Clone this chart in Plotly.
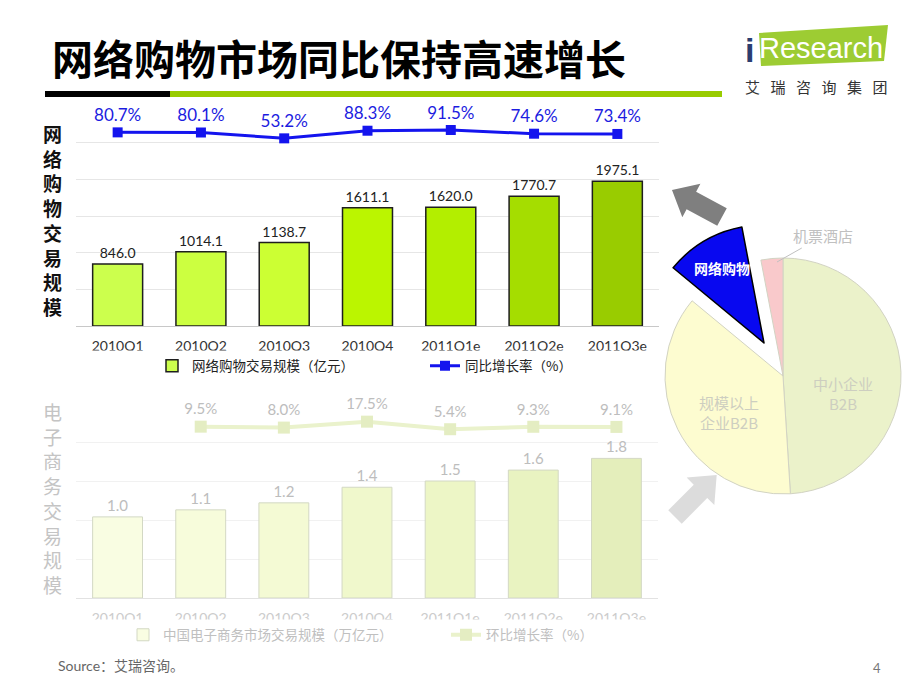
import numpy as np
import plotly.graph_objects as go

W, H = 920, 690


def fx(px):
    return px / W


def fy(py):
    return 1 - py / H


# ---------------- data ----------------
quarters = ["2010Q1", "2010Q2", "2010Q3", "2010Q4", "2011Q1e", "2011Q2e", "2011Q3e"]
online_sales = [846.0, 1014.1, 1138.7, 1611.1, 1620.0, 1770.7, 1975.1]      # 亿元
online_yoy = [80.7, 80.1, 53.2, 88.3, 91.5, 74.6, 73.4]                      # %
ec_sales = [1.04, 1.13, 1.22, 1.42, 1.50, 1.64, 1.79]                        # 万亿元
ec_qoq_quarters = quarters[1:]
ec_qoq = [9.5, 8.0, 17.5, 5.4, 9.3, 9.1]                                     # %
pie_labels = ["中小企业B2B", "规模以上企业B2B", "网络购物", "机票酒店"]
pie_shares = [49, 37, 11, 3]

# ---------------- styles ----------------
NUM_FONT = "Lato, 'Noto Sans CJK SC', sans-serif"
CJK_FONT = "'Noto Sans CJK SC', sans-serif"
top_bar_colors = ["#ccff4d", "#ccff40", "#ccff33", "#bbf500", "#b3ee00", "#a5dd00", "#99cc00"]
bot_bar_colors = ["#f9fde2", "#f7fcdb", "#f4fad4", "#f0f8cc", "#edf6c6", "#e9f3c1", "#e4eebb"]

fig = go.Figure()

fig.add_trace(go.Bar(
    x=quarters, y=online_sales, xaxis="x", yaxis="y",
    name="网络购物交易规模（亿元）", legend="legend",
    marker=dict(color=top_bar_colors, line=dict(color="#1e1e1e", width=1.5)),
    width=0.6, texttemplate="%{y:.1f}", textposition="outside", cliponaxis=False,
    textfont=dict(family=NUM_FONT, size=14, color="#222222"), hoverinfo="skip",
))
fig.add_trace(go.Scatter(
    x=quarters, y=online_yoy, xaxis="x", yaxis="y2",
    name="同比增长率（%）", legend="legend",
    mode="lines+markers+text", line=dict(color="#1414ee", width=3),
    marker=dict(symbol="square", size=10, color="#1414ee"),
    texttemplate="%{y:.1f}%", textposition="top center", cliponaxis=False,
    textfont=dict(family=NUM_FONT, size=17, color="#1c1ce0"), hoverinfo="skip",
))
fig.add_trace(go.Bar(
    x=quarters, y=ec_sales, xaxis="x2", yaxis="y3",
    name="中国电子商务市场交易规模（万亿元）", legend="legend2",
    marker=dict(color=bot_bar_colors, line=dict(color="#d3d8c4", width=1)),
    width=0.6, texttemplate="%{y:.1f}", textposition="outside", cliponaxis=False,
    textfont=dict(family=NUM_FONT, size=15, color="#bdbdbd"), hoverinfo="skip",
))
fig.add_trace(go.Scatter(
    x=ec_qoq_quarters, y=ec_qoq, xaxis="x2", yaxis="y4",
    name="环比增长率（%）", legend="legend2",
    mode="lines+markers+text", line=dict(color="#eaf2cc", width=4),
    marker=dict(symbol="square", size=12, color="#e4edc2"),
    texttemplate="%{y:.1f}%", textposition="top center", cliponaxis=False,
    textfont=dict(family=NUM_FONT, size=15, color="#bdbdbd"), hoverinfo="skip",
))

# pie: main body (网络购物 slot left empty), centre (783,376), r 118
pie_colors = ["#ebf2ca", "#fdfcd0", "rgba(0,0,0,0)", "#f9c9cb"]
fig.add_trace(go.Pie(
    labels=pie_labels, values=pie_shares, sort=False, direction="clockwise", rotation=0,
    domain=dict(x=[fx(665), fx(901)], y=[fy(494), fy(258)]),
    marker=dict(colors=pie_colors, line=dict(color="#d2d3c3", width=[1, 1, 0, 1])),
    textinfo="none", hoverinfo="skip", showlegend=False,
))
# pulled-out 网络购物 slice
fig.add_trace(go.Pie(
    labels=pie_labels, values=pie_shares, sort=False, direction="clockwise", rotation=0,
    domain=dict(x=[fx(646), fx(882)], y=[fy(461), fy(225)]),
    marker=dict(colors=["rgba(0,0,0,0)", "rgba(0,0,0,0)", "#0808f0", "rgba(0,0,0,0)"],
                line=dict(color="#000000", width=[0, 0, 1.5, 0])),
    textinfo="none", hoverinfo="skip", showlegend=False,
))


# ---------------- decorative shapes ----------------
def arrow_path(tail, tip, sw, hw, hl):
    T = np.array(tail, float)
    P = np.array(tip, float)
    u = (P - T) / np.linalg.norm(P - T)
    n = np.array([-u[1], u[0]])
    B = P - u * hl
    pts = [T + n * sw / 2, B + n * sw / 2, B + n * hw / 2, P,
           B - n * hw / 2, B - n * sw / 2, T - n * sw / 2]
    return "M " + " L ".join(f"{fx(p[0]):.5f},{fy(p[1]):.5f}" for p in pts) + " Z"


def poly_path(pts):
    return "M " + " L ".join(f"{fx(x):.5f},{fy(y):.5f}" for x, y in pts) + " Z"


shapes = [
    dict(type="rect", xref="paper", yref="paper", x0=fx(45), x1=fx(170), y0=fy(97), y1=fy(91),
         fillcolor="#000000", line_width=0),
    dict(type="rect", xref="paper", yref="paper", x0=fx(170), x1=fx(722), y0=fy(97), y1=fy(91),
         fillcolor="#99cc00", line_width=0),
    # clip bottoms of category labels (as in the reference)
    dict(type="rect", xref="paper", yref="paper", x0=fx(60), x1=fx(660), y0=fy(357.5), y1=fy(350.5),
         fillcolor="#ffffff", line_width=0),
    dict(type="rect", xref="paper", yref="paper", x0=fx(60), x1=fx(660), y0=fy(627), y1=fy(619.5),
         fillcolor="#ffffff", line_width=0),
    # logo plate
    dict(type="path", xref="paper", yref="paper",
         path=poly_path([(759, 33), (888, 25), (884, 61), (761, 66)]),
         fillcolor="#9dcc33", line_width=0),
    # arrows
    dict(type="path", xref="paper", yref="paper",
         path=arrow_path((722, 217), (672, 190), 20, 38, 22), fillcolor="#7f7f7f", line_width=0),
    dict(type="path", xref="paper", yref="paper",
         path=arrow_path((675, 517), (716.7, 475), 19, 39, 23), fillcolor="#dcdcdc", line_width=0),
]


def ann(text, x, y, size, color, family=CJK_FONT, weight=None, xanchor="center", **kw):
    font = dict(family=family, size=size, color=color)
    if weight:
        font["weight"] = weight
    d = dict(text=text, xref="paper", yref="paper", x=fx(x), y=fy(y), xanchor=xanchor,
             yanchor="middle", showarrow=False, font=font)
    d.update(kw)
    return d


annotations = [
    ann("<b>网络购物市场同比保持高速增长</b>", 50, 57, 41, "#000000", xanchor="left"),
    ann("i", 749, 50, 34, "#2b3d70", family="'Liberation Sans Narrow', sans-serif", weight=700),
    ann("Research", 821, 48, 29, "#ffffff", family="'Liberation Sans Narrow', sans-serif"),
    ann("艾\u2002\u2009瑞\u2002\u2009咨\u2002\u2009询\u2002\u2009集\u2002\u2009团", 816, 86, 15, "#333333"),
    ann("<br>".join("网络购物交易规模"), 52, 220, 19, "#111111", weight=700),
    ann("<br>".join("电子商务交易规模"), 52, 498, 19, "#c4c4c4"),
    ann("<b>网络购物</b>", 722, 268, 14, "#ffffff"),
    ann("中小企业<br>B2B", 843, 393, 15, "#cdcec0", family=CJK_FONT),
    ann("规模以上<br>企业B2B", 729, 413, 15, "#cdcec0", family=CJK_FONT),
    dict(text="机票酒店", xref="paper", yref="paper", x=fx(777), y=fy(262), ax=46, ay=-26,
         showarrow=True, arrowhead=0, arrowwidth=1, arrowcolor="#c0c0c0",
         font=dict(family=CJK_FONT, size=15, color="#c0c0c0")),
    ann("Source：艾瑞咨询。", 56, 665, 14, "#666666", family=NUM_FONT, xanchor="left"),
    ann("4", 877, 668, 13, "#777777", family=NUM_FONT),
]

xcommon = dict(type="category", range=[-0.5, 6.5], showgrid=False, ticks="", zeroline=False,
               showline=True, fixedrange=True)

fig.update_layout(
    width=W, height=H, margin=dict(l=0, r=0, t=0, b=0),
    paper_bgcolor="#ffffff", plot_bgcolor="#ffffff",
    bargap=0.4, showlegend=True,
    xaxis=dict(domain=[fx(76), fx(659)], anchor="y", linecolor="#c8c8c8", ticklabelstandoff=7,
               tickfont=dict(family=NUM_FONT, size=14, color="#333333"), **xcommon),
    yaxis=dict(domain=[fy(326), fy(106)], anchor="x", range=[0, 3000], dtick=500,
               showgrid=True, gridcolor="#e6e6e6", showticklabels=False, zeroline=False,
               fixedrange=True),
    yaxis2=dict(overlaying="y", anchor="x", range=[-810, 202], visible=False, fixedrange=True),
    xaxis2=dict(domain=[fx(76), fx(658)], anchor="y3", linecolor="#e2e2e2", ticklabelstandoff=7,
                tickfont=dict(family=NUM_FONT, size=14, color="#cccccc"), **xcommon),
    yaxis3=dict(domain=[fy(598), fy(403)], anchor="x2", range=[0, 2.5], dtick=0.5,
                showgrid=True, gridcolor="#f1f1f1", showticklabels=False, zeroline=False,
                fixedrange=True),
    yaxis4=dict(overlaying="y3", anchor="x2", range=[-265, 47.4], visible=False, fixedrange=True),
    legend=dict(orientation="h", x=fx(152), y=fy(366), xanchor="left", yanchor="middle",
                bgcolor="rgba(0,0,0,0)", font=dict(family=CJK_FONT, size=13.5, color="#222222"),
                entrywidth=228, entrywidthmode="pixels", traceorder="normal"),
    legend2=dict(orientation="h", x=fx(123), y=fy(635), xanchor="left", yanchor="middle",
                 bgcolor="rgba(0,0,0,0)", font=dict(family=CJK_FONT, size=13.5, color="#c0c0c0"),
                 entrywidth=278, entrywidthmode="pixels", traceorder="normal"),
    shapes=shapes, annotations=annotations,
)

fig.write_html("out.html")
